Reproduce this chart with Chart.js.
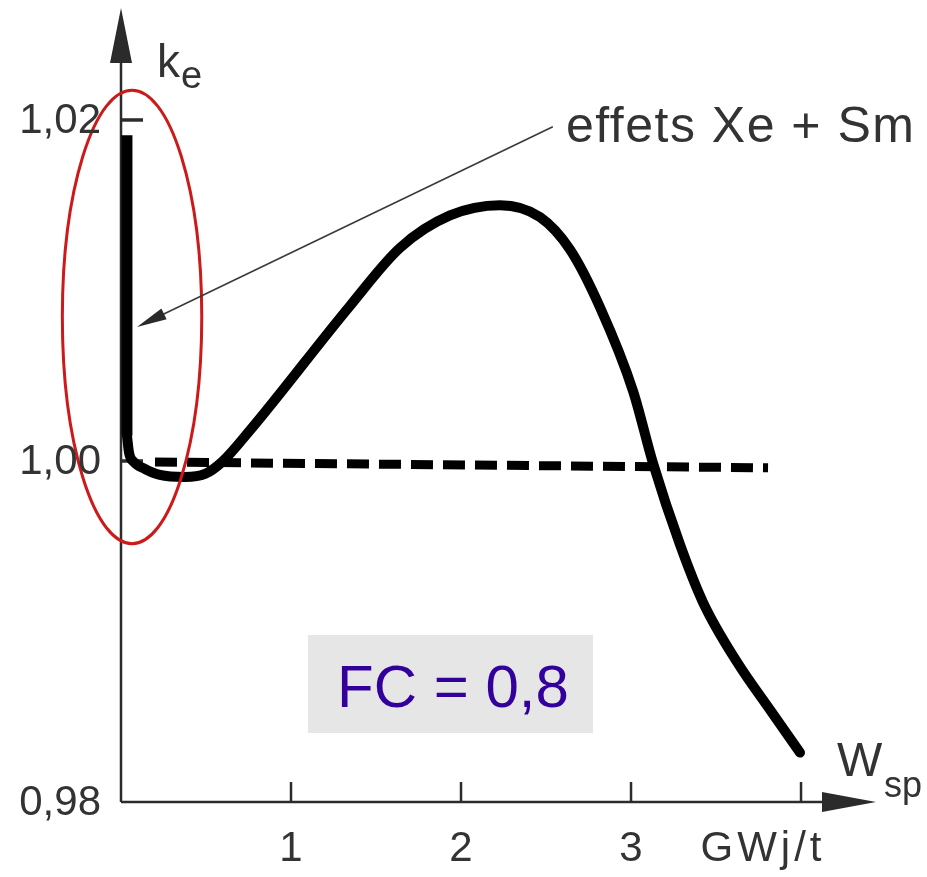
<!DOCTYPE html>
<html>
<head>
<meta charset="utf-8">
<script src="https://cdn.jsdelivr.net/npm/chart.js@4.4.1/dist/chart.umd.min.js"></script>
<style>
  body { margin: 0; background: #fff; }
  #wrap { width: 927px; height: 877px; }
</style>
</head>
<body>
<div id="wrap"><canvas id="keChart" width="927" height="877"></canvas></div>
<script>
// start-up drop (Xe + Sm poisoning)
const dropBurnup = [0.035, 0.035];
const dropK = [1.0191, 1.0015];

// burnup (GWj/t) and k_e after the drop
const burnup = [0.035, 0.047, 0.076, 0.141, 0.229, 0.376, 0.494, 0.594, 0.759, 1.347, 1.641,
  1.935, 2.229, 2.465, 2.641, 2.818, 3.012, 3.129, 3.288, 3.424, 3.624, 3.818, 3.994];
const keff = [1.0015, 1.0005, 0.99994, 0.99953, 0.99918, 0.99906, 0.99924, 0.99994, 1.0018, 1.0091, 1.0125,
  1.0144, 1.0150, 1.0143, 1.0124, 1.0090, 1.0041, 0.99988, 0.9951, 0.9917, 0.9882, 0.9854, 0.9829];

// critical line k = 1 (dashed)
const critBurnup = [0.2, 3.806];
const critK = [0.99994, 0.9996];

const xTicks = [1, 2, 3, 4];
const xTickLabels = ["1", "2", "3", "GWj/t"];
const yTicks = [0.98, 1.00, 1.02];
const yTickLabels = ["0,98", "1,00", "1,02"];

const ink = "#2b2b2b";
const textFont = '"Liberation Sans", Arial, sans-serif';

function toPoints(xs, ys) {
  return xs.map((x, i) => ({ x: x, y: ys[i] }));
}

// axes with arrows, ticks, labels and annotations
const figurePlugin = {
  id: "figure",
  beforeDatasetsDraw(chart) {
    const ctx = chart.ctx;
    const xs = chart.scales.x, ys = chart.scales.y;
    const x0 = xs.getPixelForValue(0), y0 = ys.getPixelForValue(0.98);
    const area = chart.chartArea;
    ctx.save();
    ctx.strokeStyle = ink;
    ctx.fillStyle = ink;
    ctx.lineWidth = 2.5;
    // y axis
    ctx.beginPath();
    ctx.moveTo(x0, y0);
    ctx.lineTo(x0, area.top + 40);
    ctx.stroke();
    ctx.beginPath();
    ctx.moveTo(x0, area.top - 2);
    ctx.lineTo(x0 - 11, area.top + 53);
    ctx.lineTo(x0 + 11, area.top + 53);
    ctx.closePath();
    ctx.fill();
    // x axis
    ctx.beginPath();
    ctx.moveTo(x0, y0);
    ctx.lineTo(area.right - 40, y0);
    ctx.stroke();
    ctx.beginPath();
    ctx.moveTo(area.right, y0);
    ctx.lineTo(area.right - 54, y0 - 10);
    ctx.lineTo(area.right - 54, y0 + 10);
    ctx.closePath();
    ctx.fill();
    // tick marks
    ctx.lineWidth = 2.5;
    xTicks.forEach(v => {
      const px = xs.getPixelForValue(v);
      ctx.beginPath();
      ctx.moveTo(px, y0);
      ctx.lineTo(px, y0 - 20);
      ctx.stroke();
    });
    ctx.lineWidth = 3.5;
    yTicks.slice(1).forEach(v => {
      const py = ys.getPixelForValue(v);
      ctx.beginPath();
      ctx.moveTo(x0, py);
      ctx.lineTo(x0 + 22, py);
      ctx.stroke();
    });

    // FC box
    ctx.fillStyle = "#e6e6e6";
    ctx.fillRect(308, 635, 285, 98);
    ctx.restore();
  },
  afterDatasetsDraw(chart) {
    const ctx = chart.ctx;
    const xs = chart.scales.x, ys = chart.scales.y;
    ctx.save();

    // red ellipse around Xe + Sm effect
    const cx = xs.getPixelForValue(0.065), cy = ys.getPixelForValue(1.00845);
    const rx = xs.getPixelForValue(0.41) - xs.getPixelForValue(0);
    const ry = ys.getPixelForValue(0.98) - ys.getPixelForValue(0.98 + 0.0133);
    ctx.strokeStyle = "#cc1a1a";
    ctx.lineWidth = 3;
    ctx.beginPath();
    ctx.ellipse(cx, cy, rx, ry, 0, 0, Math.PI * 2);
    ctx.stroke();

    // pointer from label to the vertical drop
    const sx = xs.getPixelForValue(2.54), sy = ys.getPixelForValue(1.0196);
    const tx = xs.getPixelForValue(0.094), ty = ys.getPixelForValue(1.00786);
    const ang = Math.atan2(ty - sy, tx - sx);
    ctx.strokeStyle = "#3a3a3a";
    ctx.fillStyle = "#2a2a2a";
    ctx.lineWidth = 1.6;
    ctx.beginPath();
    ctx.moveTo(sx, sy);
    ctx.lineTo(tx - 20 * Math.cos(ang), ty - 20 * Math.sin(ang));
    ctx.stroke();
    ctx.beginPath();
    ctx.moveTo(tx, ty);
    ctx.lineTo(tx - 30 * Math.cos(ang) + 6 * Math.sin(ang), ty - 30 * Math.sin(ang) - 6 * Math.cos(ang));
    ctx.lineTo(tx - 30 * Math.cos(ang) - 6 * Math.sin(ang), ty - 30 * Math.sin(ang) + 6 * Math.cos(ang));
    ctx.closePath();
    ctx.fill();
    ctx.restore();
  },
  afterDraw(chart) {
    const ctx = chart.ctx;
    const xs = chart.scales.x, ys = chart.scales.y;
    const x0 = xs.getPixelForValue(0), y0 = ys.getPixelForValue(0.98);
    ctx.save();
    ctx.fillStyle = "#333";

    // y tick labels
    ctx.font = "42px " + textFont;
    ctx.textAlign = "right";
    ctx.textBaseline = "middle";
    yTicks.forEach((v, i) => {
      ctx.fillText(yTickLabels[i], x0 - 20, ys.getPixelForValue(v) + 1);
    });

    // x tick labels
    ctx.textAlign = "center";
    xTicks.forEach((v, i) => {
      let px = xs.getPixelForValue(v);
      if (i === xTicks.length - 1) {
        ctx.letterSpacing = "4px";
        px -= 38;
      }
      ctx.fillText(xTickLabels[i], px, y0 + 47);
      ctx.letterSpacing = "0px";
    });

    // axis titles
    ctx.textAlign = "left";
    ctx.textBaseline = "alphabetic";
    ctx.font = "46px " + textFont;
    ctx.fillText("k", 157, 77);
    ctx.font = "38px " + textFont;
    ctx.fillText("e", 181, 88);
    ctx.font = "48px " + textFont;
    ctx.fillText("W", 837, 776);
    ctx.font = "36px " + textFont;
    ctx.fillText("sp", 884, 797);

    // annotation text
    ctx.font = "50px " + textFont;
    ctx.letterSpacing = "1.5px";
    ctx.fillText("effets Xe + Sm", 566, 142);
    ctx.letterSpacing = "0px";

    // FC label
    ctx.fillStyle = "#34009c";
    ctx.font = "60px " + textFont;
    ctx.textAlign = "center";
    ctx.fillText("FC = 0,8", 453, 707);
    ctx.restore();
  }
};

new Chart(document.getElementById("keChart"), {
  type: "scatter",
  data: {
    datasets: [
      {
        data: toPoints(dropBurnup, dropK),
        showLine: true,
        borderColor: "#000",
        borderWidth: 11,
        borderCapStyle: "butt",
        pointRadius: 0,
        clip: false
      },
      {
        data: toPoints(burnup, keff),
        showLine: true,
        borderColor: "#000",
        borderWidth: 10,
        borderCapStyle: "round",
        borderJoinStyle: "round",
        cubicInterpolationMode: "monotone",
        pointRadius: 0,
        clip: false
      },
      {
        data: toPoints(critBurnup, critK),
        showLine: true,
        borderColor: "#000",
        borderWidth: 9,
        borderDash: [22, 10],
        pointRadius: 0,
        clip: false
      }
    ]
  },
  options: {
    responsive: false,
    animation: false,
    layout: { padding: { left: 121, right: 51, top: 10, bottom: 75 } },
    plugins: { legend: { display: false }, tooltip: { enabled: false } },
    scales: {
      x: { type: "linear", min: 0, max: 4.441, display: false },
      y: { type: "linear", min: 0.98, max: 1.02645, display: false }
    }
  },
  plugins: [figurePlugin]
});
</script>
</body>
</html>
